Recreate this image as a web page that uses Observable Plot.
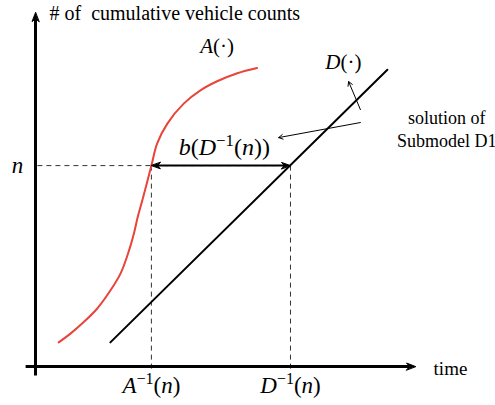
<!DOCTYPE html>
<html><head><meta charset="utf-8">
<script src="https://cdn.jsdelivr.net/npm/d3@7"></script>
<script src="https://cdn.jsdelivr.net/npm/@observablehq/plot@0.6"></script>
<style>body{margin:0;background:#fff} svg{display:block}</style>
</head><body><div id="chart"></div>
<script>
// Arrival curve A(·): cumulative vehicle arrivals over time
const arrivalTime  = [6.1, 9.2, 12.7, 16.2, 19.7, 22.4, 24.6, 25.9, 26.9, 28.1, 30.5, 32.0, 34.7, 39.0, 43.4, 47.8, 53.1, 58.3];
const arrivalCount = [6.9, 9.4, 12.7, 16.5, 21.7, 26.6, 33.1, 38.0, 42.7, 47.4, 57.4, 63.7, 69.4, 75.1, 78.9, 81.5, 83.8, 85.3];
// Departure curve D(·): a straight line
const departureTime  = [19.7, 92.6];
const departureCount = [6.9, 84.8];
// Count level n and the times at which A and D reach it
const nLevel = 57.4;
const arrivalAtN = 30.5;
const departureAtN = 67.1;
// Pointer from the "solution of Submodel D1" note to the delay label, and to D(·)
const noteArrowTime  = [85.5, 64.0];
const noteArrowCount = [69.7, 65.4];
const curveArrowTime  = [85.5, 82.4];
const curveArrowCount = [73.4, 81.4];

const arrival = arrivalTime.map((t, i) => ({t, c: arrivalCount[i]}));
const departure = departureTime.map((t, i) => ({t, c: departureCount[i]}));

// Filled (stealth) arrowhead; the tip sits on the anchor point
const stealth = {
  draw(ctx, l, r) {
    ctx.moveTo(0, -l);
    ctx.lineTo(-r, -l + 9);
    ctx.lineTo(0, -l + 6);
    ctx.lineTo(r, -l + 9);
    ctx.closePath();
  }
};
const head = (x, y, rotate, r = 3.5) =>
  Plot.vector([0], {x, y, rotate, length: 9, r, anchor: "end", shape: stealth, fill: "black", stroke: "black", strokeWidth: 1});

const serif = "'Liberation Serif', 'Times New Roman', serif";

const plot = Plot.plot({
  width: 495,
  height: 405,
  margin: 0,
  style: {fontFamily: serif},
  x: {domain: [0, 100], range: [35, 415], axis: null},
  y: {domain: [0, 100], range: [366, 16], axis: null},
  marks: [
    // dashed guides at n
    Plot.link([0], {x1: 0.5, x2: departureAtN, y1: nLevel, y2: nLevel, stroke: "#333", strokeWidth: 1, strokeDasharray: "5,4"}),
    Plot.link([arrivalAtN, departureAtN], {x1: d => d, x2: d => d, y1: nLevel, y2: -1, stroke: "#333", strokeWidth: 1, strokeDasharray: "5,4"}),
    // axes
    Plot.link([0], {x1: 0, x2: 0, y1: -2.6, y2: 99.4, stroke: "black", strokeWidth: 3}),
    Plot.link([0], {x1: -2.6, x2: 98.4, y1: 0, y2: 0, stroke: "black", strokeWidth: 3}),
    head(0, 101.1, 0),
    head(100, 0, 90),
    // curves
    Plot.line(arrival, {x: "t", y: "c", curve: "catmull-rom", stroke: "#e8443a", strokeWidth: 2}),
    Plot.line(departure, {x: "t", y: "c", stroke: "black", strokeWidth: 2}),
    // delay arrow between A^-1(n) and D^-1(n)
    Plot.link([0], {x1: arrivalAtN + 1.5, x2: departureAtN - 1.5, y1: nLevel, y2: nLevel, stroke: "black", strokeWidth: 2}),
    head(arrivalAtN, nLevel, -90, 3.2),
    head(departureAtN, nLevel, 90, 3.2),
    // annotation pointers
    Plot.arrow([0], {x1: noteArrowTime[0], y1: noteArrowCount[0], x2: noteArrowTime[1], y2: noteArrowCount[1], stroke: "black", strokeWidth: 1, headLength: 7}),
    Plot.arrow([0], {x1: curveArrowTime[0], y1: curveArrowCount[0], x2: curveArrowTime[1], y2: curveArrowCount[1], stroke: "black", strokeWidth: 1, headLength: 7}),
    // plain text
    Plot.text(["# of\u00a0 cumulative vehicle counts"], {x: 0, y: 100, dx: 14, dy: -3, text: d => d, textAnchor: "start", fontFamily: serif, fontSize: 20, fill: "black"}),
    Plot.text(["time"], {x: 109.2, y: 0, dy: 2, text: d => d, fontFamily: serif, fontSize: 19, fill: "black"}),
    Plot.text(["solution of", "Submodel D1"], {x: 108.2, y: (d, i) => [70.9, 64.3][i], text: d => d, fontFamily: serif, fontSize: 18, fill: "black"}),
    // math labels
    Plot.text(["A(·)"], {x: 47.8, y: 91.4, text: d => d, fontFamily: serif, fontSize: 21, fill: "black"}),
    Plot.text(["D(·)"], {x: 81.0, y: 86.8, text: d => d, fontFamily: serif, fontSize: 21, fill: "black"}),
    Plot.text(["b(D⁻¹(n))"], {x: 49.7, y: 62.6, text: d => d, fontFamily: serif, fontSize: 24, fill: "black"}),
    Plot.text(["n"], {x: 0, y: nLevel, dx: -18, text: d => d, fontFamily: serif, fontSize: 23, fill: "black"}),
    Plot.text(["A⁻¹(n)", "D⁻¹(n)"], {x: (d, i) => [arrivalAtN, departureAtN][i], y: 0, dy: 19, text: d => d, fontFamily: serif, fontSize: 23, fill: "black"})
  ]
});

// Typeset math labels: italic variables, raised exponents
const mathSegments = {
  "A(·)": [["A", "i"], ["(·)"]],
  "D(·)": [["D", "i"], ["(·)"]],
  "n": [["n", "i"]],
  "A⁻¹(n)": [["A", "i"], ["−1", "s"], ["("], ["n", "i"], [")"]],
  "D⁻¹(n)": [["D", "i"], ["−1", "s"], ["("], ["n", "i"], [")"]],
  "b(D⁻¹(n))": [["b", "i"], ["("], ["D", "i"], ["−1", "s"], ["("], ["n", "i"], ["))"]]
};
const NS = "http://www.w3.org/2000/svg";
plot.querySelectorAll("text").forEach(el => {
  const segs = mathSegments[el.textContent];
  if (!segs) return;
  const fs = parseFloat(el.closest("[font-size]")?.getAttribute("font-size") || 20);
  while (el.firstChild) el.removeChild(el.firstChild);
  let raised = false;
  segs.forEach(([t, k]) => {
    const ts = document.createElementNS(NS, "tspan");
    ts.textContent = t;
    if (k === "i") ts.setAttribute("font-style", "italic");
    if (k === "s") {
      ts.setAttribute("font-size", fs * 0.7);
      ts.setAttribute("dy", -fs * 0.38);
      raised = true;
    } else if (raised) {
      ts.setAttribute("dy", fs * 0.38);
      raised = false;
    }
    el.appendChild(ts);
  });
});

document.getElementById("chart").appendChild(plot);
</script>
</body></html>
